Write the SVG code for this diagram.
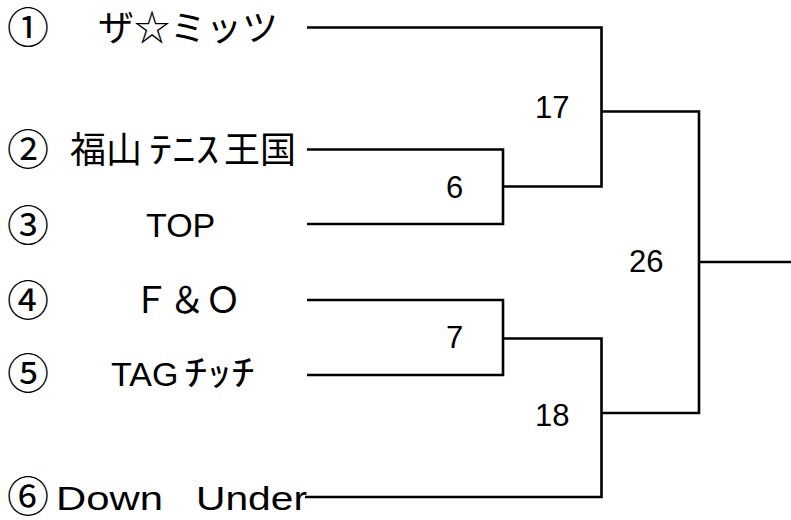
<svg xmlns="http://www.w3.org/2000/svg" width="791" height="520" viewBox="0 0 791 520">
<style>
.c{fill:none;stroke:#000;stroke-width:2.6;stroke-linejoin:miter;stroke-linecap:butt}
.j{font-family:"Noto Sans CJK JP","Liberation Sans",sans-serif;font-size:36px;fill:#000}
.o{font-family:"Noto Sans CJK JP","DejaVu Sans",sans-serif;font-size:42px;fill:#000}
.l{font-family:"Liberation Sans","Noto Sans CJK JP",sans-serif;font-size:34px;fill:#000}
.n{font-family:"Liberation Sans",sans-serif;font-size:31px;fill:#000}
</style>
<rect width="791" height="520" fill="#fff"/>
<g id="team1"><text class="o" x="7" y="43">①</text><text class="j" x="98" y="41">ザ☆ミッツ</text></g>
<g id="team2"><text class="o" x="7" y="165">②</text><text class="j" x="70" y="163">福山</text><text class="j" x="149" y="163" textLength="70" lengthAdjust="spacingAndGlyphs">ﾃﾆｽ</text><text class="j" x="224" y="163">王国</text></g>
<g id="team3"><text class="o" x="7" y="241">③</text><text class="l" x="146" y="237">TOP</text></g>
<g id="team4"><text class="o" x="7" y="316">④</text><text class="j" x="133" y="313">Ｆ＆Ｏ</text></g>
<g id="team5"><text class="o" x="7" y="389">⑤</text><text class="l" x="111" y="386">TAG</text><text class="j" x="184" y="386" textLength="71" lengthAdjust="spacingAndGlyphs">ﾁｯﾁ</text></g>
<g id="team6"><text class="o" x="7" y="512">⑥</text><text class="l" x="56" y="510" textLength="107" lengthAdjust="spacingAndGlyphs">Down</text><text class="l" x="196" y="510" textLength="111" lengthAdjust="spacingAndGlyphs">Under</text></g>
<g id="connectors">
<path class="c" d="M307,27.5 H601.5 V186.5 H503"/>
<path class="c" d="M307,149.5 H503 V224 H307"/>
<path class="c" d="M601.5,111.5 H699 V413 H601.5"/>
<path class="c" d="M699,262 H791"/>
<path class="c" d="M307,300 H503 V375 H307"/>
<path class="c" d="M503,338.5 H601.5 V497 H305"/>
</g>
<g id="scores">
<text class="n" x="535" y="118">17</text>
<text class="n" x="446" y="198">6</text>
<text class="n" x="629" y="272">26</text>
<text class="n" x="446" y="348">7</text>
<text class="n" x="535" y="426">18</text>
</g>
</svg>
